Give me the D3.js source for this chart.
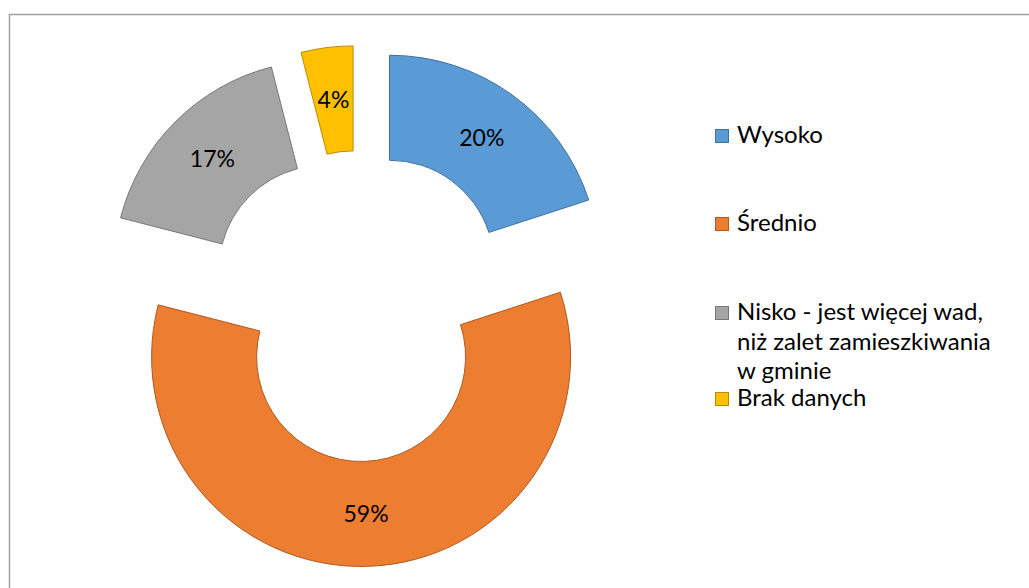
<!DOCTYPE html>
<html>
<head>
<meta charset="utf-8">
<script src="https://cdn.jsdelivr.net/npm/d3@7"></script>
<style>
  body { margin: 0; background: #fff; }
  svg { display: block; }
  text { font-family: Lato, "Noto Sans", sans-serif; fill: #000; }
</style>
</head>
<body>
<svg></svg>
<script>
const categories = [
  "Wysoko",
  "Średnio",
  "Nisko - jest więcej wad, niż zalet zamieszkiwania w gminie",
  "Brak danych"
];
const legendLines = [
  ["Wysoko"],
  ["Średnio"],
  ["Nisko - jest więcej wad,", "niż zalet zamieszkiwania", "w gminie"],
  ["Brak danych"]
];
const values = [20, 59, 17, 4];

const colors = ["#5B9BD5", "#ED7D31", "#A5A5A5", "#FFC000"];
const strokes = ["#41719C", "#AE5A21", "#787878", "#BC8C00"];

let width = 1029;
let height = 588;

let cx = 359.5;
let cy = 306;
let outerR = 209.5;
let innerR = 104.5;
let explode = 51;

let svg = d3.select("svg")
    .attr("width", width)
    .attr("height", height);

// chart frame (right/bottom edges fall outside the picture)
svg.append("rect")
    .attr("x", 9.5)
    .attr("y", 14.5)
    .attr("width", 1100)
    .attr("height", 700)
    .attr("fill", "none")
    .attr("stroke", "#A0A0A0")
    .attr("stroke-width", 1.5);

let pie = d3.pie()
    .sort(null)
    .value(d => d);

let arc = d3.arc()
    .innerRadius(innerR)
    .outerRadius(outerR);

let arcs = pie(values);

let slices = svg.append("g")
    .attr("transform", `translate(${cx},${cy})`)
    .selectAll("g")
    .data(arcs)
    .enter()
    .append("g")
    .attr("transform", d => {
        let mid = (d.startAngle + d.endAngle) / 2;
        return `translate(${explode * Math.sin(mid)},${-explode * Math.cos(mid)})`;
    });

slices.append("path")
    .attr("d", arc)
    .attr("fill", (d, i) => colors[i])
    .attr("stroke", (d, i) => strokes[i])
    .attr("stroke-width", 1);

slices.append("text")
    .attr("x", d => arc.centroid(d)[0])
    .attr("y", d => arc.centroid(d)[1])
    .attr("text-anchor", "middle")
    .attr("dy", "0.35em")
    .style("font-size", "23px")
    .text(d => d.data + "%");

// legend
let legendY = [143, 231, 320, 406];
let lineH = 29.5;

let leg = svg.append("g");

let items = leg.selectAll("g")
    .data(categories)
    .enter()
    .append("g")
    .attr("transform", (d, i) => `translate(715,${legendY[i]})`);

items.append("rect")
    .attr("x", 0.5)
    .attr("y", -13.5)
    .attr("width", 13)
    .attr("height", 13)
    .attr("fill", (d, i) => colors[i])
    .attr("stroke", (d, i) => strokes[i])
    .attr("stroke-width", 1);

items.append("text")
    .style("font-size", "24px")
    .selectAll("tspan")
    .data((d, i) => legendLines[i])
    .enter()
    .append("tspan")
    .attr("x", 22)
    .attr("y", (d, j) => j * lineH)
    .text(d => d);
</script>
</body>
</html>
